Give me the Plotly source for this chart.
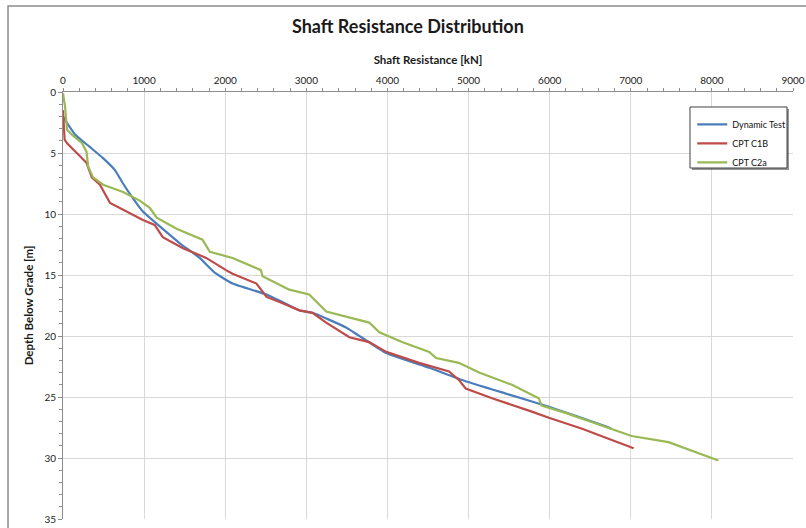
import plotly.graph_objects as go

# Dynamic test (signal matching) shaft resistance vs depth
dyn_kn = [0, 0, 150, 330, 490, 640, 740, 850, 985, 1190, 1440, 1685, 1870,
          2090, 2510, 2700, 2915, 3075, 3490, 3985, 4515, 4920, 5450, 5990, 6690, 6760]
dyn_depth = [1.5, 2.0, 3.5, 4.5, 5.4, 6.4, 7.5, 8.6, 9.8, 11.0, 12.4, 13.6, 14.8,
             15.7, 16.6, 17.2, 17.9, 18.1, 19.3, 21.4, 22.6, 23.6, 24.7, 25.8, 27.4, 27.6]

# CPT C1B
c1b_kn = [0, 20, 50, 150, 290, 355, 455, 580, 785, 985, 1130, 1230, 1480, 1765,
          2010, 2090, 2385, 2460, 2510, 2700, 2915, 3075, 3245, 3530, 3775, 3985,
          4390, 4760, 4880, 4965, 5290, 5780, 5990, 6400, 7035]
c1b_depth = [1.5, 3.9, 4.2, 4.9, 5.8, 7.0, 7.6, 9.1, 9.8, 10.5, 10.9, 11.9, 12.8, 13.6,
             14.6, 14.9, 15.7, 16.4, 16.8, 17.3, 17.9, 18.1, 18.9, 20.1, 20.5, 21.3,
             22.2, 22.9, 23.6, 24.3, 25.1, 26.2, 26.7, 27.6, 29.2]

# CPT C2a
c2a_kn = [0, 25, 50, 110, 235, 290, 310, 370, 495, 740, 945, 1070, 1155, 1400, 1720,
          1810, 2090, 2385, 2440, 2460, 2630, 2790, 3035, 3245, 3775, 3900, 4180, 4515,
          4600, 4880, 5130, 5535, 5865, 5900, 6195, 6725, 7010, 7465, 7670, 8080]
c2a_depth = [0.1, 1.2, 3.1, 3.5, 4.2, 4.9, 6.1, 7.0, 7.6, 8.2, 8.9, 9.5, 10.3, 11.2, 12.1,
             13.1, 13.6, 14.4, 14.6, 15.1, 15.7, 16.2, 16.6, 18.0, 18.9, 19.7, 20.5, 21.3,
             21.8, 22.2, 23.0, 24.0, 25.1, 25.7, 26.3, 27.5, 28.2, 28.7, 29.2, 30.2]

x_ticks = [0, 1000, 2000, 3000, 4000, 5000, 6000, 7000, 8000, 9000]
y_ticks = [0, 5, 10, 15, 20, 25, 30, 35]

FONT = "Lato"

fig = go.Figure()
fig.add_trace(go.Scatter(x=dyn_kn, y=dyn_depth, mode='lines', name='Dynamic Test',
                         line=dict(color='#4a7ebb', width=2.2, shape='spline', smoothing=0.4)))
fig.add_trace(go.Scatter(x=c1b_kn, y=c1b_depth, mode='lines', name='CPT C1B',
                         line=dict(color='#be4b48', width=2.2)))
fig.add_trace(go.Scatter(x=c2a_kn, y=c2a_depth, mode='lines', name='CPT C2a',
                         line=dict(color='#98b954', width=2.2)))

# outer chart frame (left and top edges visible)
fig.add_shape(type='rect', xref='paper', yref='paper', x0=-0.0753, x1=1.05,
              y0=-0.05, y1=1.2014, line=dict(color='#8c8c8c', width=1.5))
# legend box with a drop shadow
fig.add_shape(type='rect', xref='paper', yref='paper', x0=0.8616, x1=0.9945,
              y0=0.8173, y1=0.960, line=dict(width=0), fillcolor='rgba(60,60,60,0.55)')
fig.add_shape(type='rect', xref='paper', yref='paper', x0=0.8589, x1=0.9918,
              y0=0.822, y1=0.9649, line=dict(color='#404040', width=1), fillcolor='white')

fig.update_layout(
    width=806, height=528,
    plot_bgcolor='white', paper_bgcolor='white',
    font=dict(family=FONT, color='#222222'),
    title=dict(text='<b>Shaft Resistance Distribution</b>', x=0.506, xanchor='center',
               y=0.95, yanchor='middle', font=dict(size=18, color='#1a1a1a')),
    margin=dict(l=63, r=13, t=92, b=9),
    showlegend=True,
    legend=dict(x=0.862, y=0.958, xanchor='left', yanchor='top',
                bgcolor='rgba(0,0,0,0)', borderwidth=0,
                font=dict(size=9, color='#111111'), tracegroupgap=0,
                itemwidth=30),
    xaxis=dict(side='top', range=[0, 9000], tickvals=x_ticks,
               ticktext=[str(v) for v in x_ticks], automargin=False,
               title=dict(text='<b>Shaft Resistance [kN]</b>', standoff=6,
                          font=dict(size=11.5, color='#1a1a1a')),
               tickfont=dict(size=10, color='#222222'),
               showgrid=True, gridcolor='#d9d9d9', gridwidth=1,
               showline=True, linecolor='#8c8c8c', linewidth=1,
               ticks='outside', ticklen=3, tickcolor='#8c8c8c',
               minor=dict(dtick=200, ticks='outside', ticklen=3, tickcolor='#8c8c8c',
                          showgrid=False),
               zeroline=False),
    yaxis=dict(range=[35, 0], tickvals=y_ticks,
               ticktext=[str(v) for v in y_ticks], automargin=False,
               title=dict(text='<b>Depth Below Grade [m]</b>', standoff=8,
                          font=dict(size=11.5, color='#1a1a1a')),
               tickfont=dict(size=10, color='#222222'),
               showgrid=True, gridcolor='#d9d9d9', gridwidth=1,
               showline=True, linecolor='#8c8c8c', linewidth=1,
               ticks='outside', ticklen=4, tickcolor='#8c8c8c',
               minor=dict(dtick=1, ticks='outside', ticklen=3, tickcolor='#8c8c8c',
                          showgrid=False),
               zeroline=False),
)

# the page body has a default 8px margin; drop it so the figure fills the window
fig.write_html("out.html", config={'displayModeBar': False},
               post_script="document.body.style.margin='0';")
